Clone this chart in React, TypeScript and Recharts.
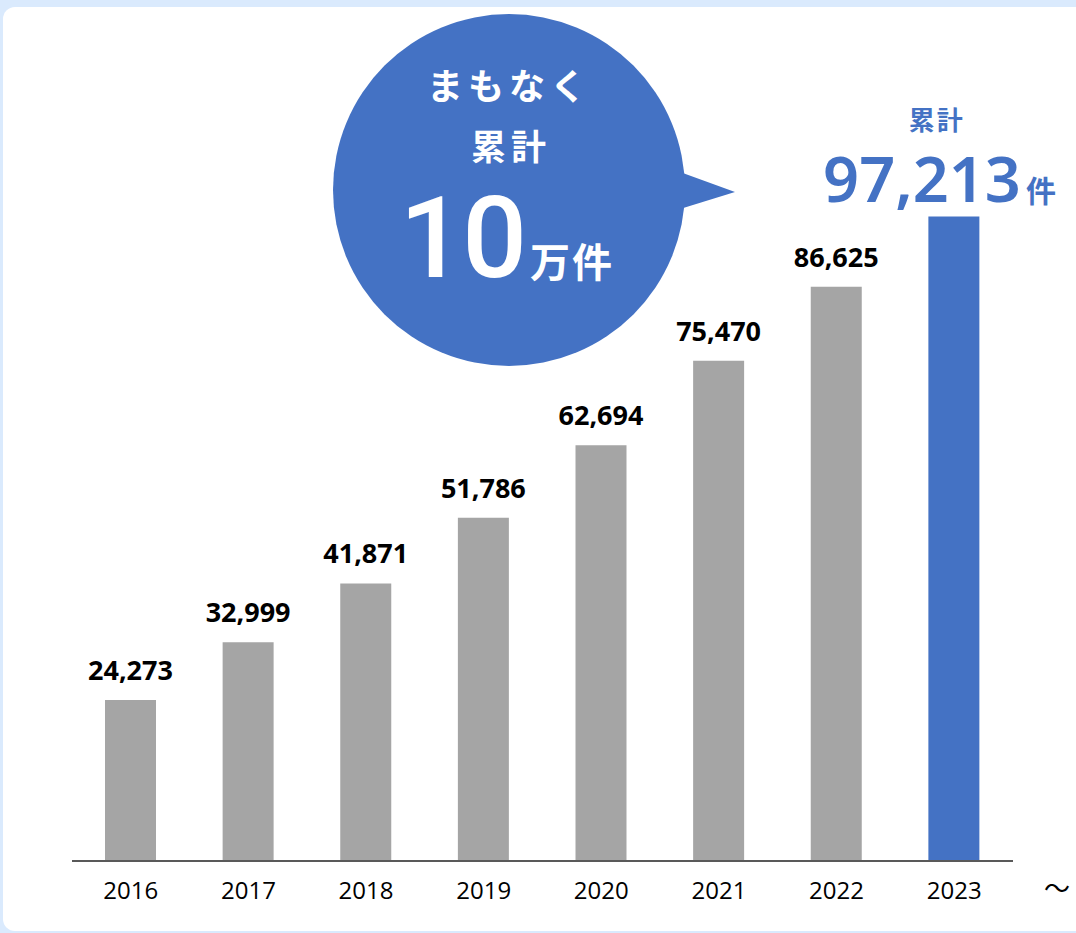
import { Bar, BarChart, Cell, LabelList, XAxis, YAxis } from 'recharts';

const years = ['2016', '2017', '2018', '2019', '2020', '2021', '2022', '2023'];
const totals = [24273, 32999, 41871, 51786, 62694, 75470, 86625, 97213];

const GRAY = '#A5A5A5';
const BLUE = '#4472C4';
const JP = '"Noto Sans CJK JP", "Noto Sans", sans-serif';
const NUM = '"Open Sans", "Noto Sans", sans-serif';

const rows = years.map((year, i) => ({ year, total: totals[i] }));

function fmt(v: number): string {
  return v.toLocaleString('en-US');
}

function ValueLabel(props: any) {
  const { x, y, width, value, index } = props;
  const cx = Number(x) + Number(width) / 2;
  const top = Number(y);
  if (index === totals.length - 1) {
    // latest year gets the big cumulative callout instead of a plain number
    return (
      <g>
        <text x={cx - 17} y={top - 86} textAnchor="middle" fill={BLUE}
          style={{ fontFamily: JP, fontSize: 26, fontWeight: 700, letterSpacing: 2 }}>
          累計
        </text>
        <text x={cx + 67} y={top - 14} textAnchor="end" fill={BLUE}
          style={{ fontFamily: '"Noto Sans", "Open Sans", sans-serif', fontSize: 63, fontWeight: 600 }}>
          {fmt(Number(value))}
        </text>
        <text x={cx + 72} y={top - 14} textAnchor="start" fill={BLUE}
          style={{ fontFamily: JP, fontSize: 30, fontWeight: 700 }}>
          件
        </text>
      </g>
    );
  }
  return (
    <text x={cx} y={top - 20} textAnchor="middle" fill="#000"
      style={{ fontFamily: NUM, fontSize: 27, fontWeight: 700 }}>
      {fmt(Number(value))}
    </text>
  );
}

function Bubble() {
  return (
    <svg width={1076} height={933} style={{ position: 'absolute', left: 0, top: 0, pointerEvents: 'none' }}>
      <circle cx={509} cy={190} r={176} fill={BLUE} />
      <polygon points="680,172 735,192 680,209" fill={BLUE} />
      <text x={509} y={100} textAnchor="middle" fill="#fff"
        style={{ fontFamily: JP, fontSize: 36, fontWeight: 700, letterSpacing: 5 }}>
        まもなく
      </text>
      <text x={511} y={160} textAnchor="middle" fill="#fff"
        style={{ fontFamily: JP, fontSize: 35, fontWeight: 700, letterSpacing: 5 }}>
        累計
      </text>
      <text x={525} y={277} textAnchor="end" fill="#fff"
        style={{ fontFamily: 'Roboto, "Open Sans", sans-serif', fontSize: 114, fontWeight: 500, letterSpacing: -2 }}>
        10
      </text>
      <text x={530} y={277} textAnchor="start" fill="#fff"
        style={{ fontFamily: JP, fontSize: 40, fontWeight: 700, letterSpacing: 2 }}>
        万件
      </text>
    </svg>
  );
}

export default function App() {
  return (
    <div style={{ position: 'absolute', left: 0, top: 0, width: 1076, height: 933, background: '#DAEAFD', overflow: 'hidden' }}>
      <div style={{ position: 'absolute', left: 3, top: 7, width: 1090, height: 924, background: '#fff', borderRadius: 12 }} />
      <div style={{ position: 'absolute', left: 0, top: 0 }}>
        <BarChart width={1076} height={933} data={rows} margin={{ top: 198, right: 63, bottom: 32, left: 72 }}>
          <YAxis hide domain={[0, 100000]} />
          <XAxis
            dataKey="year"
            height={40}
            tickLine={false}
            tickMargin={15}
            axisLine={{ stroke: '#595959', strokeWidth: 2 }}
            tick={{ fill: '#000', fontSize: 24, fontFamily: NUM }}
            interval={0}
          />
          <Bar dataKey="total" barSize={51} isAnimationActive={false}>
            {rows.map((r, i) => (
              <Cell key={r.year} fill={i === rows.length - 1 ? BLUE : GRAY} />
            ))}
            <LabelList dataKey="total" content={ValueLabel} />
          </Bar>
        </BarChart>
      </div>
      <Bubble />
      <span style={{ position: 'absolute', left: 1044, top: 868, fontSize: 26, fontFamily: JP, color: '#000' }}>～</span>
    </div>
  );
}
